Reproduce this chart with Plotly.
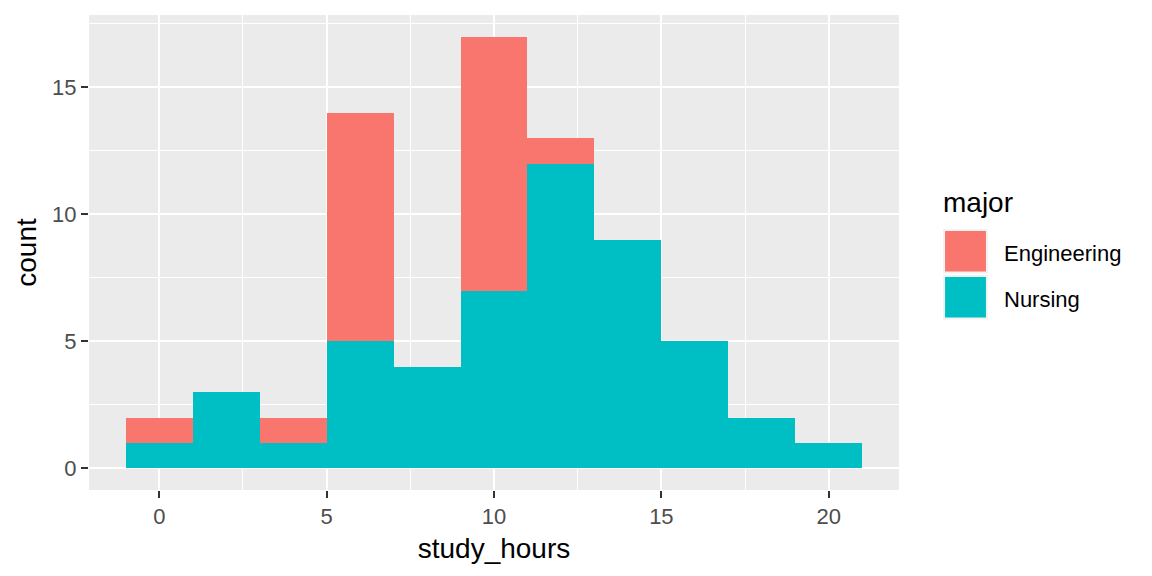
import plotly.graph_objects as go

# histogram bins (width 2), centres
bin_centres = [0, 2, 4, 6, 8, 10, 12, 14, 16, 18, 20]
nursing = [1, 3, 1, 5, 4, 7, 12, 9, 5, 2, 1]
engineering = [1, 0, 1, 9, 0, 10, 1, 0, 0, 0, 0]

majors = ["Engineering", "Nursing"]
colors = {"Engineering": "#F8766D", "Nursing": "#00BFC4"}

x_ticks = [0, 5, 10, 15, 20]
y_ticks = [0, 5, 10, 15]

FONT = "Liberation Sans, Arial, sans-serif"
TXT = 22     # axis.text / legend.text
TITLE = 28   # axis.title / legend.title

fig = go.Figure()

# Nursing unten, Engineering oben (wie ggplot stack)
for name, counts in [("Nursing", nursing), ("Engineering", engineering)]:
    fig.add_trace(go.Bar(
        x=bin_centres, y=counts, width=2, name=name,
        marker=dict(color=colors[name], line=dict(width=0)),
        showlegend=False,
    ))

# --- Legende im ggplot-Stil (grosse Keys) ---
key_x0, key_x1 = 1.0556, 1.1086
key_tops = [0.5474, 0.4505]
key_h = 0.0895
fig.add_annotation(x=key_x0 - 0.004, y=0.606, xref="paper", yref="paper",
                   text="major", showarrow=False, xanchor="left", yanchor="middle",
                   font=dict(family=FONT, size=TITLE, color="black"))
for name, top in zip(majors, key_tops):
    fig.add_shape(type="rect", xref="paper", yref="paper",
                  x0=key_x0, x1=key_x1, y0=top - key_h, y1=top,
                  fillcolor=colors[name], line=dict(color="#F2F2F2", width=2))
    fig.add_annotation(x=1.1275, y=top - key_h / 2 - 0.004, xref="paper", yref="paper",
                       text=name, showarrow=False, xanchor="left", yanchor="middle",
                       font=dict(family=FONT, size=TXT, color="black"))

fig.update_layout(
    barmode="stack",
    bargap=0,
    width=1152, height=576,
    margin=dict(l=81, r=261, t=7, b=94),
    paper_bgcolor="white",
    plot_bgcolor="#EBEBEB",
    font=dict(family=FONT),
)

fig.update_xaxes(
    range=[-2.1, 22.1], tickvals=x_ticks,
    showgrid=True, gridcolor="white", gridwidth=2,
    minor=dict(tickvals=[2.5, 7.5, 12.5, 17.5], showgrid=True,
               gridcolor="white", gridwidth=1),
    zeroline=False, showline=False,
    ticks="outside", ticklen=7, tickwidth=2, tickcolor="#333333",
    tickfont=dict(size=TXT, color="#4D4D4D"),
    title=dict(text="study_hours", font=dict(size=TITLE, color="black"), standoff=9),
)
fig.update_yaxes(
    range=[-0.85, 17.85], tickvals=y_ticks,
    showgrid=True, gridcolor="white", gridwidth=2,
    minor=dict(tickvals=[2.5, 7.5, 12.5, 17.5], showgrid=True,
               gridcolor="white", gridwidth=1),
    zeroline=False, showline=False,
    ticks="outside", ticklen=7, tickwidth=2, tickcolor="#333333",
    tickfont=dict(size=TXT, color="#4D4D4D"),
    title=dict(text="count", font=dict(size=TITLE, color="black"), standoff=7),
)

fig.write_html("out.html")
